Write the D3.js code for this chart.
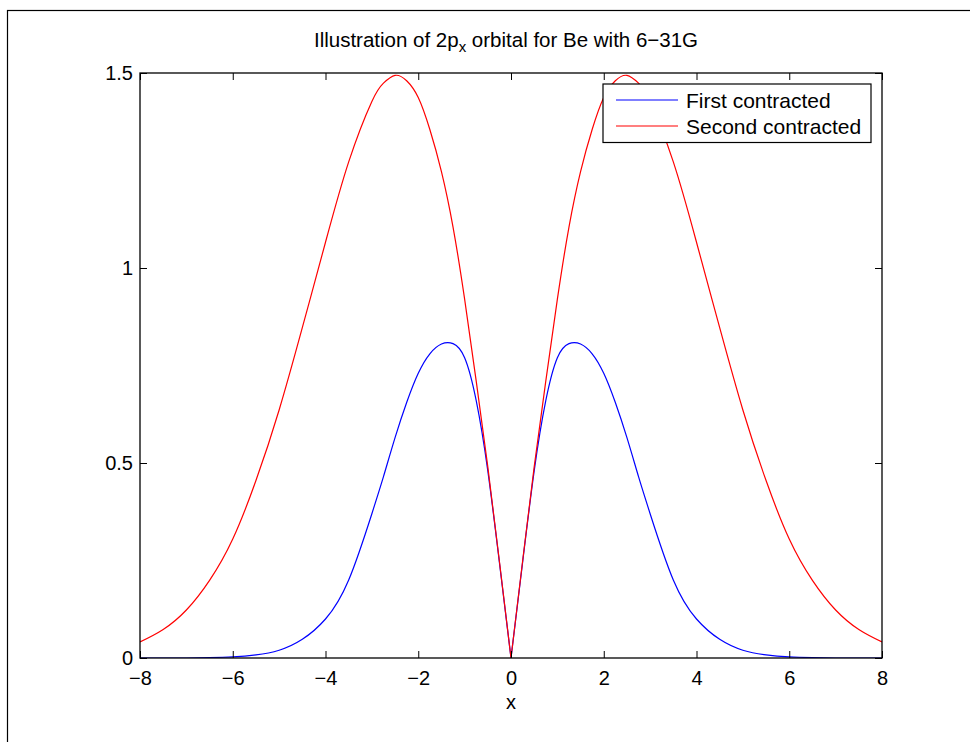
<!DOCTYPE html>
<html>
<head>
<meta charset="utf-8">
<script src="https://cdn.jsdelivr.net/npm/d3@7"></script>
<style>
  html, body { margin: 0; padding: 0; background: #fff; }
  svg { display: block; font-family: "Liberation Sans", Arial, Helvetica, sans-serif; }
</style>
</head>
<body>
<svg id="chart" width="970" height="742"></svg>
<script>
// ---- data ----
const xValues = [-8,-7.5,-7,-6.5,-6,-5.5,-5,-4.5,-4,-3.5,-3,-2.75,-2.5,-2.25,-2,-1.75,-1.5,-1.25,-1,-0.75,-0.5,-0.25,0,
                 0.25,0.5,0.75,1,1.25,1.5,1.75,2,2.25,2.5,2.75,3,3.5,4,4.5,5,5.5,6,6.5,7,7.5,8];
const firstContracted = [0,0,0,0.001,0.003,0.008,0.02,0.048,0.10,0.20,0.37,0.465,0.565,0.655,0.73,0.78,0.805,0.806,0.77,0.66,0.48,0.245,0,
                         0.245,0.48,0.66,0.77,0.806,0.805,0.78,0.73,0.655,0.565,0.465,0.37,0.20,0.10,0.048,0.02,0.008,0.003,0.001,0,0,0];
const secondContracted = [0.041,0.073,0.123,0.199,0.305,0.455,0.636,0.847,1.066,1.272,1.427,1.474,1.494,1.48,1.437,1.355,1.247,1.105,0.92,0.71,0.49,0.248,0,
                          0.248,0.49,0.71,0.92,1.105,1.247,1.355,1.437,1.48,1.494,1.474,1.427,1.272,1.066,0.847,0.636,0.455,0.305,0.199,0.123,0.073,0.041];
const seriesNames = ["First contracted", "Second contracted"];
const seriesColors = ["#0000ff", "#ff0000"];
const xTicks = [-8,-6,-4,-2,0,2,4,6,8];
const yTicks = [0,0.5,1,1.5];
const yTickLabels = ["0","0.5","1","1.5"];
const titleMain = "Illustration of 2p";
const titleSub = "x";
const titleRest = " orbital for Be with 6\u221231G";
const xLabel = "x";

// ---- layout ----
const svg = d3.select("#chart");
const L = 140, R = 882, T = 73, B = 658;
const x = d3.scaleLinear().domain([-8, 8]).range([L, R]);
const y = d3.scaleLinear().domain([0, 1.5]).range([B, T]);

// outer figure frame
svg.append("rect").attr("x", 7.5).attr("y", 10.5).attr("width", 1200).attr("height", 1200)
  .attr("fill", "none").attr("stroke", "#000").attr("stroke-width", 1.2);

svg.append("clipPath").attr("id", "clip").append("rect")
  .attr("x", L).attr("y", T - 2).attr("width", R - L).attr("height", B - T + 2);

// curves: each half drawn separately so the cusp at x=0 stays sharp
const seriesData = [firstContracted, secondContracted];
const line = d3.line().x(d => x(d[0])).y(d => y(d[1])).curve(d3.curveNatural);
const plot = svg.append("g").attr("clip-path", "url(#clip)");
seriesData.forEach((vals, i) => {
  const pts = xValues.map((xv, j) => [xv, vals[j]]);
  const left = pts.filter(p => p[0] <= 0);
  const right = pts.filter(p => p[0] >= 0);
  plot.append("path")
    .attr("d", line(left) + line(right))
    .attr("fill", "none")
    .attr("stroke", seriesColors[i])
    .attr("stroke-width", 1.2);
});

// axes
const fs = 20;
const gx = svg.append("g").attr("transform", `translate(0,${B})`)
  .call(d3.axisBottom(x).tickValues(xTicks).tickSizeInner(-7).tickSizeOuter(0).tickPadding(13));
const gxt = svg.append("g").attr("transform", `translate(0,${T})`)
  .call(d3.axisTop(x).tickValues(xTicks).tickSizeInner(-7).tickSizeOuter(0).tickFormat(""));
const gy = svg.append("g").attr("transform", `translate(${L},0)`)
  .call(d3.axisLeft(y).tickValues(yTicks).tickSizeInner(-7).tickSizeOuter(0).tickPadding(7)
    .tickFormat((d, i) => yTickLabels[i]));
const gyr = svg.append("g").attr("transform", `translate(${R},0)`)
  .call(d3.axisRight(y).tickValues(yTicks).tickSizeInner(-7).tickSizeOuter(0).tickFormat(""));
[gx, gxt, gy, gyr].forEach(g => {
  g.select(".domain").remove();
  g.selectAll(".tick line").attr("stroke", "#000").attr("stroke-width", 1);
  g.selectAll("text").attr("font-size", fs).attr("fill", "#000")
    .attr("font-family", '"Liberation Sans", Arial, Helvetica, sans-serif');
});

svg.append("rect").attr("x", L).attr("y", T).attr("width", R - L).attr("height", B - T)
  .attr("fill", "none").attr("stroke", "#000").attr("stroke-width", 1.3);

// x label
svg.append("text").attr("x", (L + R) / 2).attr("y", 709).attr("text-anchor", "middle")
  .attr("font-size", fs).text(xLabel);

// title
const title = svg.append("text").attr("x", 506).attr("y", 47)
  .attr("text-anchor", "middle").attr("font-size", 20.5);
title.append("tspan").text(titleMain);
title.append("tspan").attr("dy", 5).attr("font-size", 15).text(titleSub);
title.append("tspan").attr("dy", -5).text(titleRest);

// legend
const lg = svg.append("g");
lg.append("rect").attr("x", 603).attr("y", 84).attr("width", 268).attr("height", 58.5)
  .attr("fill", "#fff").attr("stroke", "#000").attr("stroke-width", 1.2);
seriesNames.forEach((name, i) => {
  const yy = 100 + i * 26;
  lg.append("line").attr("x1", 616).attr("x2", 678).attr("y1", yy).attr("y2", yy)
    .attr("stroke", seriesColors[i]).attr("stroke-width", 1.2);
  lg.append("text").attr("x", 686).attr("y", yy + 7.5).attr("font-size", 21).text(name);
});
</script>
</body>
</html>
